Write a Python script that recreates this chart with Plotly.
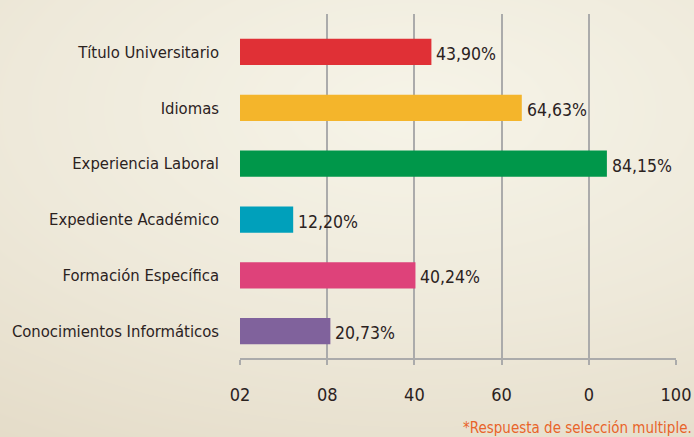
import plotly.graph_objects as go
import numpy as np

categories = ["Título Universitario", "Idiomas", "Experiencia Laboral",
              "Expediente Académico", "Formación Específica", "Conocimientos Informáticos"]
values = [43.90, 64.63, 84.15, 12.20, 40.24, 20.73]
value_labels = ["43,90%", "64,63%", "84,15%", "12,20%", "40,24%", "20,73%"]
bar_colors = ["#E03036", "#F4B52B", "#00974A", "#00A0BB", "#DE427A", "#80629C"]
x_tickvals = [0, 20, 40, 60, 80, 100]
x_ticktext = ["02", "08", "40", "60", "0", "100"]
footnote = "*Respuesta de selección multiple."

FONT = "DejaVu Sans Condensed, Liberation Sans Narrow, sans-serif"
TXT = "#2B221E"
GRID = "#ABABAB"

# background gradient (lighter toward upper-middle, darker toward lower-left)
gx = np.linspace(-0.05, 1.05, 40)
gy = np.linspace(-0.05, 1.05, 30)
GX, GY = np.meshgrid(gx, gy)
d = np.sqrt(((GX - 0.6) * 1.0) ** 2 + ((GY - 0.75) * 1.2) ** 2)
bg = go.Heatmap(x=gx, y=gy, z=d, zsmooth="best", showscale=False, hoverinfo="skip",
                colorscale=[[0, "#F6F4E8"], [0.5, "#EEE9DA"], [1, "#E3DAC6"]],
                xaxis="x", yaxis="y")

bars = go.Bar(y=categories, x=values, orientation="h", marker_color=bar_colors,
              marker_line_width=0, width=0.47, xaxis="x2", yaxis="y2", hoverinfo="skip")

fig = go.Figure([bg, bars])

for c, v, t in zip(categories, values, value_labels):
    fig.add_annotation(x=v, y=c, xref="x2", yref="y2", text=t, showarrow=False,
                       xanchor="left", xshift=3, yshift=-2,
                       font=dict(family=FONT, size=17.5, color=TXT))

fig.add_annotation(x=1.0, y=0.0, xref="paper", yref="paper", text=footnote,
                   showarrow=False, xanchor="right", yanchor="bottom", yshift=-2,
                   font=dict(family=FONT, size=15, color="#E8642A"))

fig.update_layout(
    width=694, height=437,
    margin=dict(l=0, r=0, t=0, b=0),
    paper_bgcolor="#EEE9DA",
    plot_bgcolor="rgba(0,0,0,0)",
    showlegend=False,
    xaxis=dict(domain=[0, 1], range=[0, 1], visible=False, fixedrange=True),
    yaxis=dict(domain=[0, 1], range=[0, 1], visible=False, fixedrange=True),
    xaxis2=dict(domain=[240 / 694, 676 / 694], range=[0, 100], anchor="y2",
                automargin=False,
                tickvals=x_tickvals, ticktext=x_ticktext,
                showgrid=True, gridcolor=GRID, gridwidth=2, zeroline=False,
                showline=True, linecolor=GRID, linewidth=2,
                ticks="outside", ticklen=5, tickwidth=2, tickcolor=GRID,
                ticklabelstandoff=14,
                tickfont=dict(family=FONT, size=18, color=TXT)),
    yaxis2=dict(domain=[1 - 358 / 437, 1 - 14 / 437], anchor="x2",
                automargin=False,
                range=[5.48, -0.68], type="category",
                showgrid=False, zeroline=False, showline=False,
                ticks="", ticklabelstandoff=20,
                tickfont=dict(family=FONT, size=16.5, color=TXT)),
)

fig.write_html("out.html", config={"displayModeBar": False},
               post_script="document.body.style.margin='0';document.body.style.overflow='hidden';")
